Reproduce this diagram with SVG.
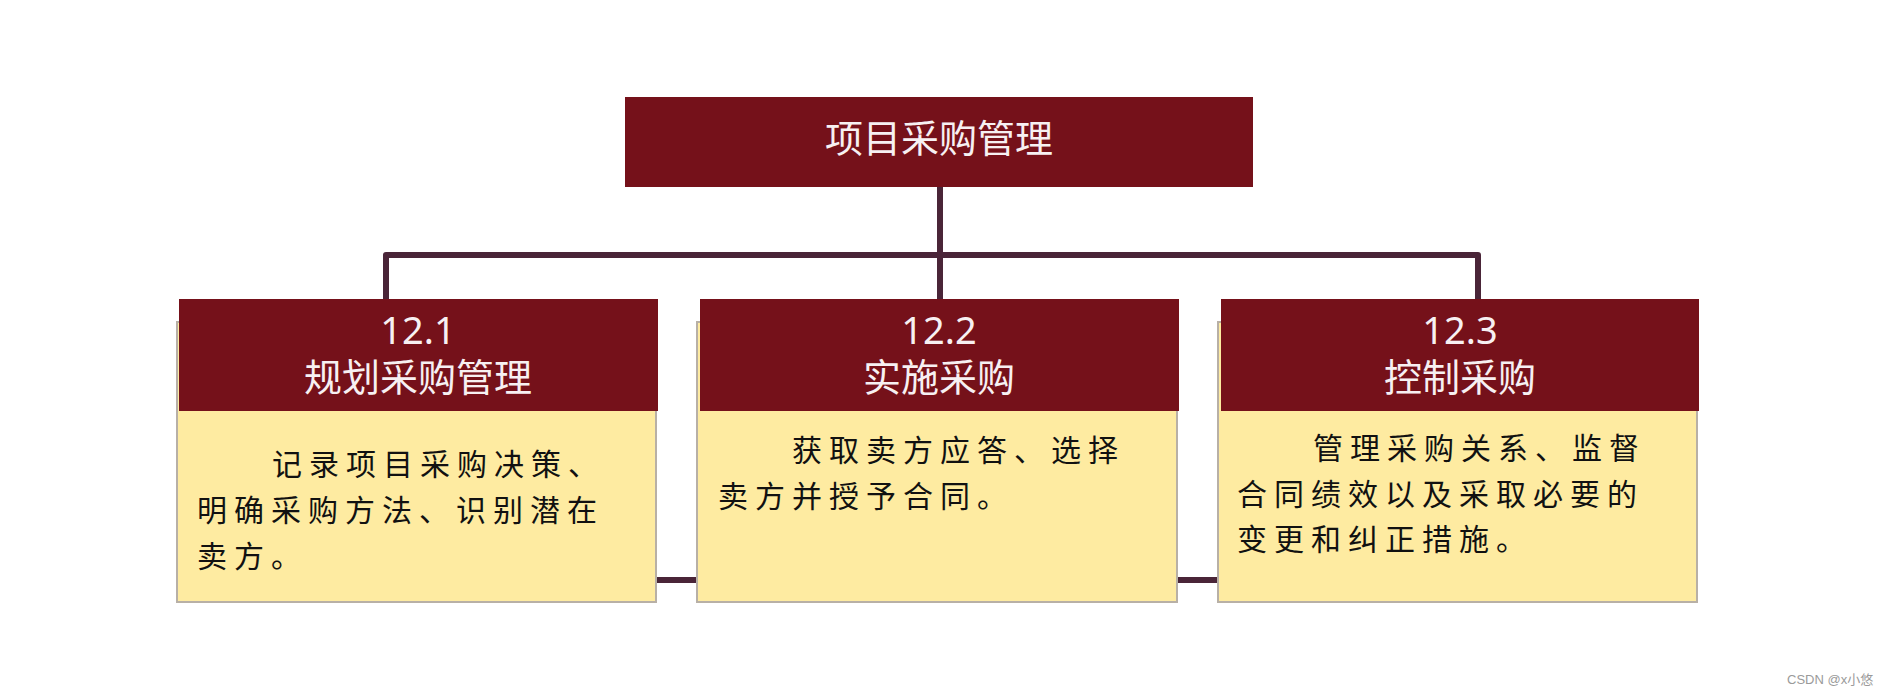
<svg xmlns="http://www.w3.org/2000/svg" width="1882" height="694" viewBox="0 0 1882 694">
<style>
.hdr{fill:#75111a}
.body{fill:#feeba1;stroke:#b8b0a6;stroke-width:2}
.conn{fill:none;stroke:#4a2538;stroke-width:6;stroke-linejoin:round}
.title{fill:#f7f0f2;font-family:"Noto Sans","Noto Sans CJK SC",sans-serif;font-size:38px;text-anchor:middle}
.desc{fill:#111;font-family:"Noto Sans CJK SC",sans-serif;font-size:30px;letter-spacing:7px}
.wm{fill:#9a9a9a;font-family:"Liberation Sans","Noto Sans CJK SC",sans-serif;font-size:13px}
</style>
<rect width="1882" height="694" fill="#ffffff"/>
<g id="connectors">
<path class="conn" d="M386 299 V255 H1478 V299"/>
<path class="conn" d="M940 187 V299"/>
<path class="conn" d="M650 580 H1225"/>
</g>
<g id="root">
<rect class="hdr" x="625" y="97" width="628" height="90"/>
<text class="title" x="939" y="152">项目采购管理</text>
</g>
<g id="n12-1">
<rect class="body" x="177" y="322" width="479" height="280"/>
<rect class="hdr" x="179" y="299" width="479" height="112"/>
<text class="title" x="418" y="344">12.1</text>
<text class="title" x="418" y="391">规划采购管理</text>
<text class="desc" x="272" y="475">记录项目采购决策、</text>
<text class="desc" x="197" y="521">明确采购方法、识别潜在</text>
<text class="desc" x="197" y="567">卖方。</text>
</g>
<g id="n12-2">
<rect class="body" x="697" y="322" width="480" height="280"/>
<rect class="hdr" x="700" y="299" width="479" height="112"/>
<text class="title" x="939" y="344">12.2</text>
<text class="title" x="939" y="391">实施采购</text>
<text class="desc" x="792" y="461">获取卖方应答、选择</text>
<text class="desc" x="718" y="507">卖方并授予合同。</text>
</g>
<g id="n12-3">
<rect class="body" x="1218" y="322" width="479" height="280"/>
<rect class="hdr" x="1221" y="299" width="478" height="112"/>
<text class="title" x="1460" y="344">12.3</text>
<text class="title" x="1460" y="391">控制采购</text>
<text class="desc" x="1313" y="459">管理采购关系、监督</text>
<text class="desc" x="1237" y="505">合同绩效以及采取必要的</text>
<text class="desc" x="1237" y="550">变更和纠正措施。</text>
</g>
<text class="wm" x="1787" y="684">CSDN @x小悠</text>
</svg>
